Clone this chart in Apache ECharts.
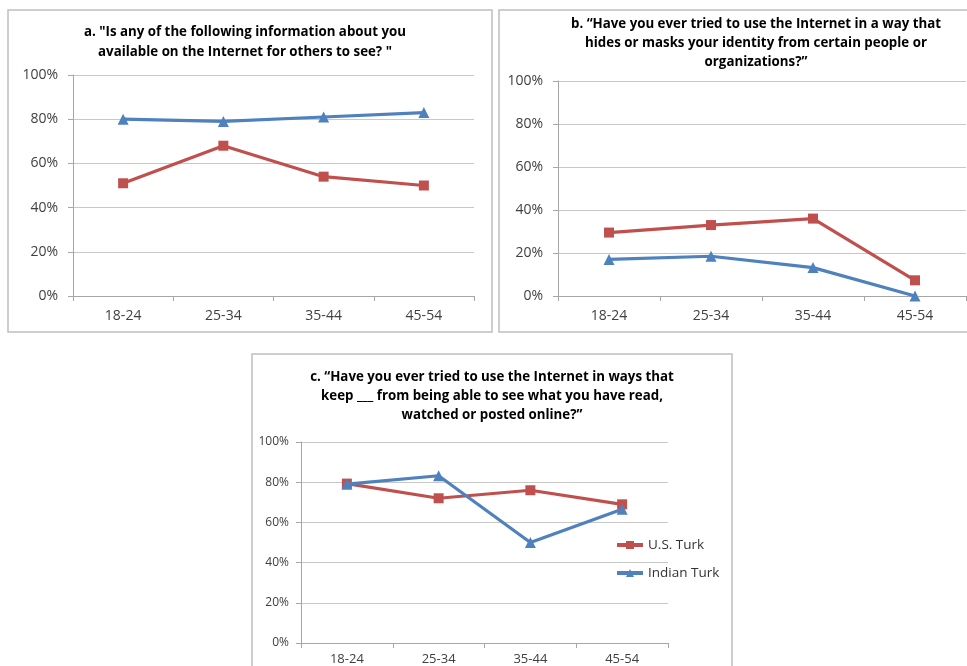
<!DOCTYPE html>
<html>
<head>
<meta charset="utf-8">
<script src="https://cdn.jsdelivr.net/npm/echarts@6/dist/echarts.min.js"></script>
<style>
  html, body { margin: 0; padding: 0; background: #fff; }
  #chart { width: 967px; height: 666px; }
</style>
</head>
<body>
<div id="chart"></div>
<script>
// age groups on every panel
const ageGroups = ['18-24', '25-34', '35-44', '45-54']
const seriesNames = ['U.S. Turk', 'Indian Turk']

// a. info available online
const usA = [51, 68, 54, 50]
const indiaA = [80, 79, 81, 83]
// b. hid or masked identity
const usB = [29.5, 33, 36, 7.3]
const indiaB = [17, 18.5, 13.2, 0]
// c. kept someone from seeing activity
const usC = [79.3, 72, 76, 69]
const indiaC = [79, 83.2, 50, 66.6]

const titleA = 'a. "Is any of the following information about you\navailable on the Internet for others to see? "'
const titleB = 'b. \u201cHave you ever tried to use the Internet in a way that\nhides or masks your identity from certain people or\norganizations?\u201d'
const titleC = 'c. \u201cHave you ever tried to use the Internet in ways that\nkeep ___ from being able to see what you have read,\nwatched or posted online?\u201d'

const RED = '#C0504D'
const BLUE = '#4F81BD'
const FONT = 'Open Sans'

const chart = echarts.init(document.getElementById('chart'))

const makeTitle = (text, x, top, lh) => ({
  text,
  left: x,
  top,
  padding: 0,
  textAlign: 'center',
  textStyle: {
    fontFamily: FONT,
    fontSize: 13.3,
    fontWeight: 'bold',
    color: '#000',
    lineHeight: lh
  }
})

const makeX = (idx, size, margin) => ({
  type: 'category',
  gridIndex: idx,
  data: ageGroups,
  boundaryGap: true,
  axisLine: { lineStyle: { color: '#A6A6A6', width: 1 } },
  axisTick: { show: true, length: 5, lineStyle: { color: '#A6A6A6' } },
  axisLabel: { fontFamily: FONT, fontSize: size, color: '#404040', margin }
})

const makeY = (idx, size, margin) => ({
  type: 'value',
  gridIndex: idx,
  min: 0,
  max: 100,
  interval: 20,
  axisLine: { show: true, lineStyle: { color: '#A6A6A6', width: 1 } },
  axisTick: { show: true, length: 5, lineStyle: { color: '#A6A6A6' } },
  axisLabel: { fontFamily: FONT, fontSize: size, color: '#404040', margin, formatter: '{value}%' },
  splitLine: { lineStyle: { color: '#C8C8C8', width: 1 } }
})

const makeLine = (name, data, idx, color) => ({
  name,
  type: 'line',
  xAxisIndex: idx,
  yAxisIndex: idx,
  data,
  symbol: color === RED ? 'rect' : 'triangle',
  symbolSize: color === RED ? 10 : 11,
  showSymbol: true,
  lineStyle: { color, width: 3.2 },
  itemStyle: { color },
  z: color === RED ? 3 : 4
})

const option = {
  backgroundColor: '#fff',
  animation: false,
  title: [
    makeTitle(titleA, 245, 22, 20),
    makeTitle(titleB, 756, 15, 19),
    makeTitle(titleC, 492, 368, 19)
  ],
  graphic: [
    { type: 'rect', shape: { x: 8, y: 10, width: 484, height: 322 }, style: { fill: 'none', stroke: '#BFBFBF', lineWidth: 1.5 }, z: -1 },
    { type: 'rect', shape: { x: 499, y: 10, width: 475, height: 322 }, style: { fill: 'none', stroke: '#BFBFBF', lineWidth: 1.5 }, z: -1 },
    { type: 'rect', shape: { x: 252, y: 354, width: 480, height: 330 }, style: { fill: 'none', stroke: '#BFBFBF', lineWidth: 1.5 }, z: -1 }
  ],
  legend: {
    data: seriesNames,
    orient: 'vertical',
    left: 615,
    top: 538,
    padding: 0,
    itemGap: 14,
    itemWidth: 26,
    itemHeight: 10,
    lineStyle: { width: 4 },
    textStyle: { fontFamily: FONT, fontSize: 13.5, color: '#333' }
  },
  grid: [
    { left: 73, right: 493, top: 75, bottom: 370 },
    { left: 558, right: 1, top: 81, bottom: 370 },
    { left: 301, right: 299, top: 442, bottom: 23 }
  ],
  xAxis: [makeX(0, 14, 13), makeX(1, 14, 13), makeX(2, 13, 10)],
  yAxis: [makeY(0, 14, 15), makeY(1, 14, 15), makeY(2, 12, 12)],
  series: [
    makeLine(seriesNames[0], usA, 0, RED),
    makeLine(seriesNames[1], indiaA, 0, BLUE),
    makeLine(seriesNames[0], usB, 1, RED),
    makeLine(seriesNames[1], indiaB, 1, BLUE),
    makeLine(seriesNames[0], usC, 2, RED),
    makeLine(seriesNames[1], indiaC, 2, BLUE)
  ]
}

chart.setOption(option)
</script>
</body>
</html>
